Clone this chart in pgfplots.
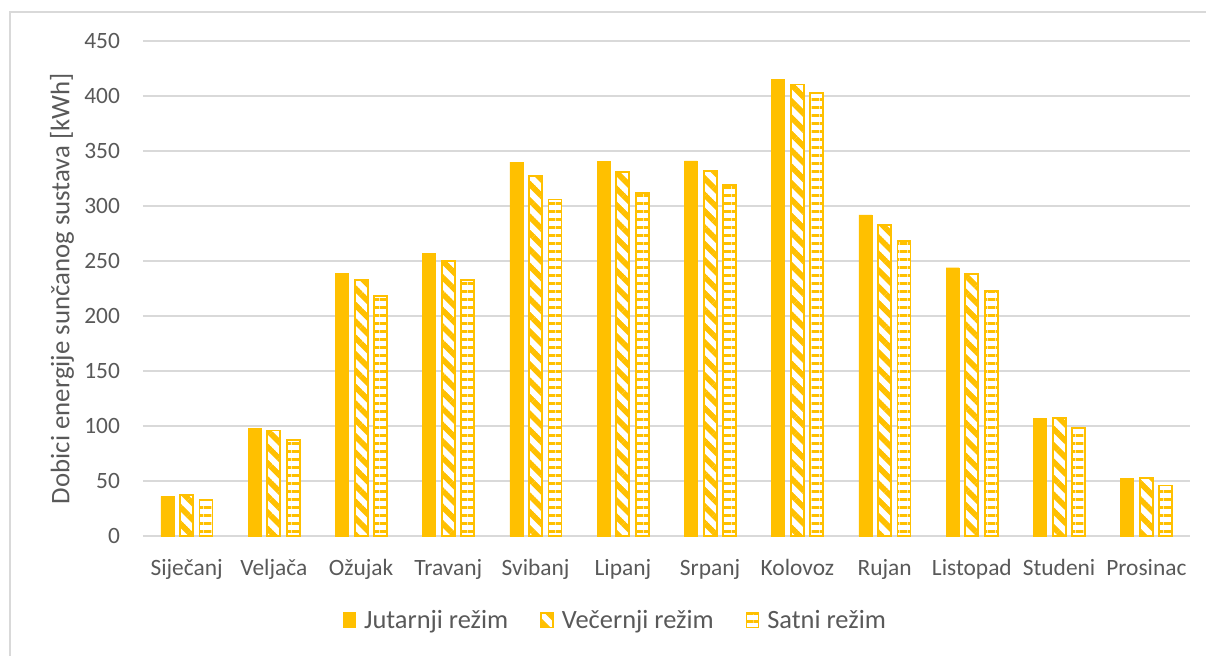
\documentclass[border=0pt]{standalone}
\usepackage{pgfplots}
\pgfplotsset{compat=1.18}
\usepackage{pgfplotstable}
\usepackage{fontspec}
\setmainfont{Carlito}
\usetikzlibrary{patterns.meta}

\definecolor{barY}{HTML}{FFC000}
\definecolor{gridG}{HTML}{D9D9D9}
\definecolor{txtG}{HTML}{595959}

% thick stripes, like the Excel fills
\tikzdeclarepattern{
  name=dstripes,
  type=uncolored,
  bounding box={(0,-1.5pt) and (5.8pt,1.5pt)},
  tile size={(5.8pt,5.8pt)},
  tile transformation={rotate=-45},
  code={\fill (0,-1.4pt) rectangle (5.8pt,1.4pt);},
}
\tikzdeclarepattern{
  name=hstripes,
  type=uncolored,
  bounding box={(0,0) and (4.1pt,4.1pt)},
  tile size={(4.1pt,4.1pt)},
  code={\fill (0,0) rectangle (4.1pt,1.6pt);},
}

% mjesec  jutarnji  vecernji  satni
\pgfplotstableread{
x  J    V      S
0  36   37     33
1  98   96     87
2  239  232.5  218
3  257  250    233
4  340  327    306
5  340.5 331   312
6  341  332    319
7  415  410.5  403
8  292  283    268.5
9  244  238    222.5
10 107  107    98.5
11 52.5 53     46
}\data

\begin{document}
\begin{tikzpicture}
\useasboundingbox (-71.5pt,-59.5pt) rectangle (531.5pt,268pt);
\draw[gridG, line width=0.8pt] (-66.5pt,-70pt) -- (-66.5pt,262pt) -- (540pt,262pt);
\begin{axis}[
  scale only axis,
  width=523.5pt, height=247.5pt,
  ybar=3.15pt, bar width=6.5pt,
  xmin=-0.5, xmax=11.5,
  ymin=0, ymax=450,
  ytick distance=50,
  xtick=data,
  xticklabels={Siječanj,Veljača,Ožujak,Travanj,Svibanj,Lipanj,Srpanj,Kolovoz,Rujan,Listopad,Studeni,Prosinac},
  axis line style={draw=none},
  major tick length=0pt,
  ymajorgrids,
  grid style={gridG, line width=0.8pt},
  /pgf/number format/assume math mode=true,
  tick label style={font=\fontsize{11.7pt}{13pt}\selectfont, text=txtG},
  yticklabel style={xshift=-8pt},
  xticklabel style={yshift=-8pt},
  ylabel={Dobici energije sunčanog sustava [kWh]},
  every axis y label/.style={at={(axis description cs:-0.0774,0.5)}, rotate=90, anchor=center,
    font=\fontsize{13.4pt}{15pt}\selectfont, text=txtG},
  legend columns=3,
  legend style={draw=none, at={(0.452,-0.172)}, anchor=center,
    font=\fontsize{13.2pt}{15pt}\selectfont, text=txtG,
    /tikz/every even column/.append style={column sep=14pt}},
  legend image code/.code={\draw[#1, line width=0.8pt] (0pt,-3.2pt) rectangle (6pt,4.2pt);},
]
\addplot[fill=barY, draw=barY, line width=0.1pt] table[x=x, y=J] {\data};
\addlegendentry{\hspace{2pt}Jutarnji režim}
\addplot[draw=barY, line width=0.9pt, preaction={fill=white},
  pattern=dstripes, pattern color=barY]
  table[x=x, y=V] {\data};
\addlegendentry{\hspace{2pt}Večernji režim}
\addplot[draw=barY, line width=0.9pt, preaction={fill=white},
  pattern=hstripes, pattern color=barY]
  table[x=x, y=S] {\data};
\addlegendentry{\hspace{2pt}Satni režim}
\end{axis}
\end{tikzpicture}
\end{document}
